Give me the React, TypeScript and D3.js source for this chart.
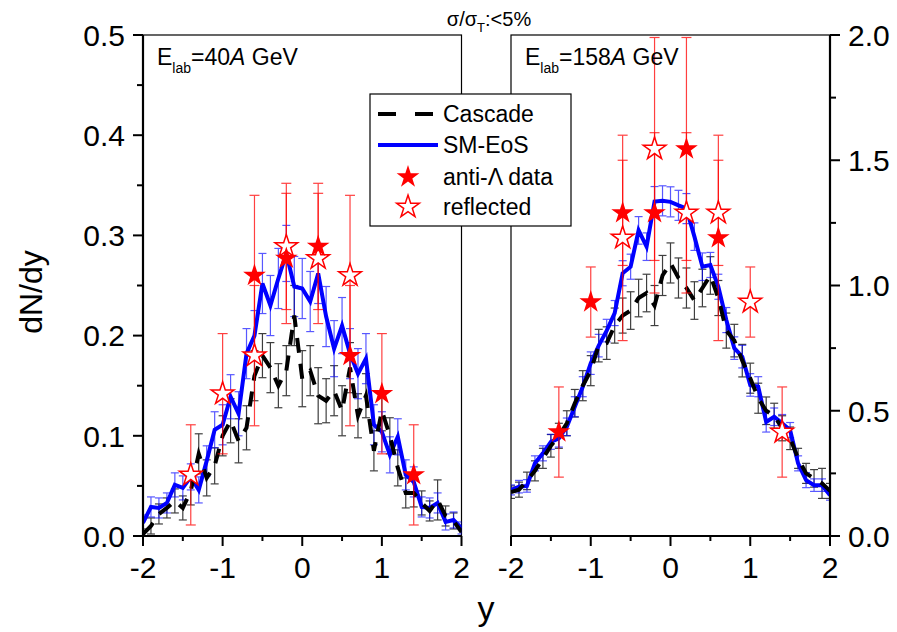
import React from 'react'
import * as d3 from 'd3'

// rapidity grid of the model curves
const rapidity = [
  -2.0, -1.9, -1.8, -1.7, -1.6, -1.5, -1.4, -1.3, -1.2, -1.1, -1.0,
  -0.9, -0.8, -0.7, -0.6, -0.5, -0.4, -0.3, -0.2, -0.1, 0.0,
  0.1, 0.2, 0.3, 0.4, 0.5, 0.6, 0.7, 0.8, 0.9, 1.0,
  1.1, 1.2, 1.3, 1.4, 1.5, 1.6, 1.7, 1.8, 1.9, 2.0,
]

// 40A GeV
const smLeft = [
  0.013, 0.029, 0.028, 0.033, 0.051, 0.048, 0.059, 0.046, 0.075, 0.106, 0.111,
  0.139, 0.122, 0.182, 0.2, 0.252, 0.23, 0.257, 0.282, 0.249, 0.247,
  0.234, 0.262, 0.219, 0.187, 0.21, 0.182, 0.162, 0.177, 0.111, 0.104,
  0.081, 0.099, 0.061, 0.054, 0.029, 0.028, 0.033, 0.014, 0.016, 0.008,
]
const smLeftErr = [
  0.008, 0.01, 0.01, 0.01, 0.012, 0.012, 0.013, 0.013, 0.015, 0.018, 0.02,
  0.022, 0.022, 0.025, 0.025, 0.03, 0.03, 0.03, 0.028, 0.03, 0.03,
  0.03, 0.03, 0.03, 0.028, 0.028, 0.025, 0.025, 0.025, 0.02, 0.02,
  0.018, 0.018, 0.015, 0.015, 0.01, 0.01, 0.01, 0.008, 0.008, 0.006,
]
const casLeft = [
  0.002, 0.01, 0.022, 0.028, 0.035, 0.028, 0.045, 0.082, 0.058, 0.07, 0.1,
  0.115, 0.095, 0.108, 0.16, 0.18, 0.168, 0.15, 0.165, 0.22, 0.157,
  0.165, 0.14, 0.135, 0.145, 0.125, 0.168, 0.12, 0.14, 0.085, 0.125,
  0.1, 0.068, 0.043, 0.043, 0.033, 0.025, 0.036, 0.02, 0.015, 0.004,
]
const casLeftErr = [
  0.005, 0.008, 0.01, 0.01, 0.012, 0.012, 0.014, 0.02, 0.018, 0.018, 0.02,
  0.022, 0.022, 0.022, 0.025, 0.022, 0.025, 0.022, 0.025, 0.03, 0.028,
  0.025, 0.028, 0.022, 0.025, 0.025, 0.025, 0.022, 0.022, 0.02, 0.02,
  0.018, 0.018, 0.015, 0.014, 0.012, 0.01, 0.02, 0.01, 0.008, 0.006,
]
const dataLeftY = [-0.6, -0.2, 0.2, 0.6, 1.0, 1.4]
const dataLeft = [0.26, 0.277, 0.289, 0.18, 0.142, 0.061]
const dataLeftErr = [0.08, 0.065, 0.063, 0.07, 0.06, 0.05]
const reflLeftY = [-1.4, -1.0, -0.6, -0.2, 0.2, 0.6]
const reflLeft = [0.061, 0.142, 0.18, 0.289, 0.277, 0.26]
const reflLeftErr = [0.05, 0.06, 0.07, 0.063, 0.065, 0.08]

// 158A GeV
const smRight = [
  0.184, 0.197, 0.2, 0.29, 0.33, 0.376, 0.39, 0.436, 0.516, 0.596, 0.69,
  0.76, 0.82, 0.89, 1.049, 1.075, 1.22, 1.155, 1.335, 1.338, 1.334,
  1.32, 1.307, 1.195, 1.075, 1.082, 0.995, 0.862, 0.75, 0.716, 0.603,
  0.596, 0.455, 0.476, 0.45, 0.423, 0.29, 0.223, 0.203, 0.203, 0.163,
]
const smRightErr = [
  0.02, 0.025, 0.025, 0.03, 0.03, 0.03, 0.035, 0.035, 0.04, 0.04, 0.045,
  0.045, 0.045, 0.05, 0.05, 0.05, 0.055, 0.055, 0.06, 0.06, 0.06,
  0.06, 0.06, 0.055, 0.055, 0.05, 0.05, 0.05, 0.045, 0.045, 0.045,
  0.04, 0.04, 0.035, 0.035, 0.03, 0.03, 0.03, 0.025, 0.025, 0.02,
]
const casRight = [
  0.175, 0.185, 0.22, 0.26, 0.31, 0.36, 0.4, 0.45, 0.53, 0.6, 0.66,
  0.76, 0.77, 0.84, 0.88, 0.9, 0.95, 0.97, 0.92, 1.04, 1.09,
  1.03, 0.99, 0.94, 0.99, 1.04, 0.95, 0.82, 0.78, 0.7, 0.63,
  0.55, 0.5, 0.48, 0.43, 0.39, 0.31, 0.25, 0.23, 0.21, 0.18,
]
const casRightErr = [
  0.025, 0.03, 0.035, 0.04, 0.04, 0.045, 0.05, 0.05, 0.055, 0.06, 0.06,
  0.065, 0.065, 0.07, 0.07, 0.075, 0.075, 0.075, 0.08, 0.08, 0.08,
  0.08, 0.08, 0.075, 0.075, 0.075, 0.07, 0.07, 0.065, 0.065, 0.06,
  0.06, 0.055, 0.05, 0.05, 0.045, 0.04, 0.04, 0.035, 0.06, 0.03,
]
const dataRightY = [-1.4, -1.0, -0.6, -0.2, 0.2, 0.6]
const dataRight = [0.415, 0.934, 1.29, 1.29, 1.545, 1.19]
const dataRightErr = [0.18, 0.14, 0.21, 0.32, 0.445, 0.41]
const reflRightY = [-0.6, -0.2, 0.2, 0.6, 1.0, 1.4]
const reflRight = [1.19, 1.545, 1.29, 1.29, 0.934, 0.415]
const reflRightErr = [0.41, 0.445, 0.32, 0.21, 0.14, 0.18]

// ticks
const xTicks = [-2, -1, 0, 1, 2]
const xMinor = [-1.5, -0.5, 0.5, 1.5]
const leftTicks = [0, 0.1, 0.2, 0.3, 0.4, 0.5]
const leftMinor = [0.05, 0.15, 0.25, 0.35, 0.45]
const rightTicks = [0, 0.5, 1.0, 1.5, 2.0]
const rightMinor = [0.25, 0.75, 1.25, 1.75]

const FONT = 'Liberation Sans, Arial, Helvetica, sans-serif'
const TOP = 35
const BOTTOM = 536
const DASH = '15,11'
const star = d3.symbol(d3.symbolStar, 160)() as string

const ErrBars = ({ xs, ys, es, x, y, color, cap, opacity }) => (
  <g stroke={color} strokeWidth={1.2} opacity={opacity} fill="none">
    {ys.map((v, i) => {
      const cx = x(xs[i])
      const hi = y(v + es[i])
      const lo = y(v - es[i])
      return (
        <g key={i}>
          <line x1={cx} x2={cx} y1={hi} y2={lo} />
          <line x1={cx - cap} x2={cx + cap} y1={hi} y2={hi} />
          <line x1={cx - cap} x2={cx + cap} y1={lo} y2={lo} />
        </g>
      )
    })}
  </g>
)

const Panel = props => {
  const { id, x0, x1, yMax, sm, smErr, cas, casErr, dY, d, dErr, rY, r, rErr, label, side } = props
  const x = d3.scaleLinear().domain([-2, 2]).range([x0, x1])
  const y = d3.scaleLinear().domain([0, yMax]).range([BOTTOM, TOP])
  const line = d3.line<number>().x((_, i) => x(rapidity[i])).y(v => y(v))
  const yMaj = side === 'left' ? leftTicks : rightTicks
  const yMin = side === 'left' ? leftMinor : rightMinor
  const ax = side === 'left' ? x0 : x1
  const dir = side === 'left' ? -1 : 1
  const fmt = d3.format('.1f')

  return (
    <g>
      <defs>
        <clipPath id={id}>
          <rect x={x0} y={TOP} width={x1 - x0} height={BOTTOM - TOP} />
        </clipPath>
      </defs>
      <rect x={x0} y={TOP} width={x1 - x0} height={BOTTOM - TOP} fill="none" stroke="#000" strokeWidth={1.2} />
      <g clipPath={`url(#${id})`}>
        <ErrBars xs={rapidity} ys={cas} es={casErr} x={x} y={y} color="#000" cap={4} opacity={0.75} />
        <ErrBars xs={rapidity} ys={sm} es={smErr} x={x} y={y} color="#0000ff" cap={4} opacity={0.65} />
        <path d={line(sm)} fill="none" stroke="#0000ff" strokeWidth={4} strokeLinejoin="miter" />
        <path d={line(cas)} fill="none" stroke="#000" strokeWidth={4} strokeDasharray={DASH} />
        <ErrBars xs={dY} ys={d} es={dErr} x={x} y={y} color="#ff0000" cap={5} opacity={0.75} />
        <ErrBars xs={rY} ys={r} es={rErr} x={x} y={y} color="#ff0000" cap={5} opacity={0.75} />
        {r.map((v, i) => (
          <path key={'r' + i} d={star} transform={`translate(${x(rY[i])},${y(v)})`} fill="#fff" stroke="#ff0000" strokeWidth={1.5} />
        ))}
        {d.map((v, i) => (
          <path key={'d' + i} d={star} transform={`translate(${x(dY[i])},${y(v)})`} fill="#ff0000" />
        ))}
      </g>
      {/* bottom axis */}
      <line x1={x0} x2={x1} y1={BOTTOM} y2={BOTTOM} stroke="#000" strokeWidth={2.2} />
      {xTicks.map(t => (
        <g key={t}>
          <line x1={x(t)} x2={x(t)} y1={BOTTOM} y2={BOTTOM + 10} stroke="#000" strokeWidth={2} />
          <text x={x(t)} y={578} textAnchor="middle" fontSize={30}>{t < 0 ? '-' + Math.abs(t) : t}</text>
        </g>
      ))}
      {xMinor.map(t => (
        <line key={t} x1={x(t)} x2={x(t)} y1={BOTTOM} y2={BOTTOM + 5} stroke="#000" strokeWidth={2} />
      ))}
      {/* y axis */}
      <line x1={ax} x2={ax} y1={TOP} y2={BOTTOM} stroke="#000" strokeWidth={2.2} />
      {yMaj.map(t => (
        <g key={t}>
          <line x1={ax} x2={ax + dir * 10} y1={y(t)} y2={y(t)} stroke="#000" strokeWidth={2} />
          <text x={ax + dir * 18} y={y(t)} dy="0.36em" textAnchor={side === 'left' ? 'end' : 'start'} fontSize={30}>{fmt(t)}</text>
        </g>
      ))}
      {yMin.map(t => (
        <line key={t} x1={ax} x2={ax + dir * 6} y1={y(t)} y2={y(t)} stroke="#000" strokeWidth={2} />
      ))}
      <text x={x0 + 14} y={65} fontSize={23}>
        E<tspan fontSize={14} dy={8}>lab</tspan>
        <tspan dy={-8}>{'=' + label}</tspan>
        <tspan fontStyle="italic">A</tspan>
        <tspan>{' GeV'}</tspan>
      </text>
    </g>
  )
}

const Legend = () => {
  const lx = 370
  const ly = 94
  const rows = [114, 145, 177, 207]
  return (
    <g>
      <rect x={lx} y={ly} width={201} height={132} fill="#fff" stroke="#000" strokeWidth={1.2} />
      <line x1={378} x2={436} y1={rows[0]} y2={rows[0]} stroke="#000" strokeWidth={4} strokeDasharray="18,19" />
      <line x1={378} x2={438} y1={rows[1]} y2={rows[1]} stroke="#0000ff" strokeWidth={4} />
      <path d={star} transform={`translate(408,${rows[2]})`} fill="#ff0000" />
      <path d={star} transform={`translate(408,${rows[3]})`} fill="#fff" stroke="#ff0000" strokeWidth={1.5} />
      {['Cascade', 'SM-EoS', 'anti-\u039b data', 'reflected'].map((t, i) => (
        <text key={t} x={443} y={rows[i]} dy="0.36em" fontSize={23}>{t}</text>
      ))}
    </g>
  )
}

export default function App() {
  return (
    <svg width={897} height={632} style={{ position: 'absolute', left: 0, top: 0, background: '#fff' }} fontFamily={FONT}>
      <rect width={897} height={632} fill="#fff" />
      <Panel id="clipL" x0={143} x1={461.5} yMax={0.5} side="left" label="40"
        sm={smLeft} smErr={smLeftErr} cas={casLeft} casErr={casLeftErr}
        dY={dataLeftY} d={dataLeft} dErr={dataLeftErr} rY={reflLeftY} r={reflLeft} rErr={reflLeftErr} />
      <Panel id="clipR" x0={511} x1={830} yMax={2.0} side="right" label="158"
        sm={smRight} smErr={smRightErr} cas={casRight} casErr={casRightErr}
        dY={dataRightY} d={dataRight} dErr={dataRightErr} rY={reflRightY} r={reflRight} rErr={reflRightErr} />
      <Legend />
      <text x={489} y={26} textAnchor="middle" fontSize={20}>
        σ/σ<tspan fontSize={13} dy={6}>T</tspan><tspan dy={-6}>:&lt;5%</tspan>
      </text>
      <text transform="translate(42,292) rotate(-90)" textAnchor="middle" fontSize={32}>dN/dy</text>
      <text x={486} y={620} textAnchor="middle" fontSize={34}>y</text>
    </svg>
  )
}
